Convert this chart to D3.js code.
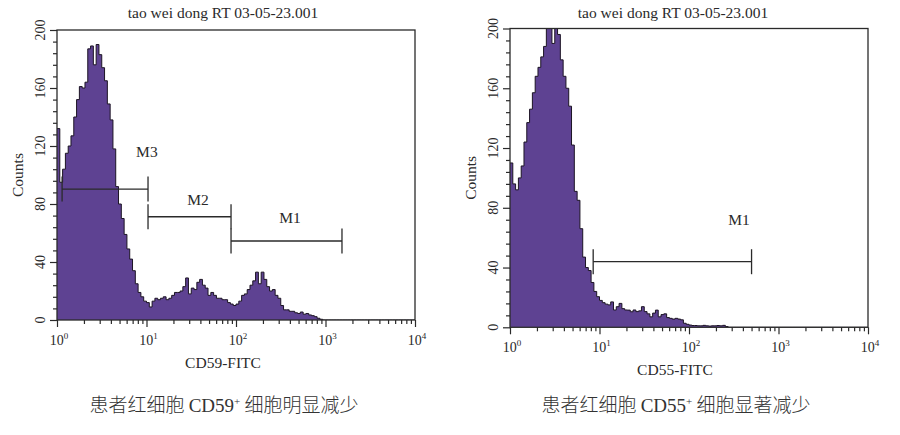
<!DOCTYPE html>
<html><head><meta charset="utf-8">
<script src="https://cdn.jsdelivr.net/npm/d3@7"></script>
<style>body{margin:0;background:#fff}</style>
</head><body><svg id="c" width="900" height="435"></svg>
<script>
// ---------------- data ----------------
const titleText = "tao wei dong RT 03-05-23.001";
const channelsPerDecade = 32;
const decadeTicks = [1, 10, 100, 1000, 10000];
const decadeExponents = ["0", "1", "2", "3", "4"];
const countTicks = [0, 40, 80, 120, 160, 200];
const countMinorStep = 8;
const xLabels = ["CD59-FITC", "CD55-FITC"];
const captionsPre = ["患者红细胞 ", "患者红细胞 "];
const captionsMarker = ["CD59", "CD55"];
const captionsPost = [" 细胞明显减少", " 细胞显著减少"];

// CD59-FITC histogram, 128 channels over 10^0..10^4
const cd59Counts = [
  132,95,104,115,120,127,140,152,161,160,
  164,187,189,176,190,183,174,165,149,138,
  118,92,80,70,59,49,42,34,25,19,
  16,13,12,9,13,15,14,15,16,14,
  15,17,19,19,20,23,29,18,22,21,
  26,28,24,22,17,19,17,15,15,14,
  14,12,11,10,11,13,17,18,21,24,
  27,33,25,33,28,23,20,21,17,15,
  10,7,7,6,6,5,4.5,5.5,4,4.5,
  3.5,3,2.3,1.2,0.5,0,0,0,0,0,
  0,0,0,0,0,0,0,0,0,0,
  0,0,0,0,0,0,0,0,0,0,
  0,0,0,0,0,0,0,0
];
// CD55-FITC histogram, 128 channels over 10^0..10^4
const cd55Counts = [
  110,96,92,100,108,124,137,146,157,168,
  174,181,188,200,204,190,204,196,179,168,
  160,148,122,91,85,66,47,40,38,30,
  24,20.5,18,16.5,15.5,15,17,11.6,13.8,16,
  12.5,11.6,11.5,10.4,11.6,10.5,11,13.8,10.5,9,
  7,9.5,11.5,7,8.5,9,6.5,6,5.5,6,
  5.5,5,2.7,2,1.5,1.2,1.2,1,1,1.3,
  1,0.8,1,1,1.2,1,1.3,0.5,0,0,
  0,0,0,0,0,0,0,0,0,0,
  0,0,0,0,0,0,0,0,0,0,
  0,0,0,0,0,0,0,0,0,0,
  0,0,0,0,0,0,0,0,0,0,
  0,0,0,0,0,0,0,0
];

// markers: name, range (lo..hi), level (count), label anchor (value,count)
const cd59MarkerNames = ["M3", "M2", "M1"];
const cd59MarkerLo = [1.14, 10.4, 88];
const cd59MarkerHi = [10.4, 88, 1528];
const cd59MarkerLevel = [90.3, 71.2, 54.5];
const cd59LabelX = [10.1, 37.6, 401];
const cd59LabelY = [116.5, 82.8, 70.3];

const cd55MarkerNames = ["M1"];
const cd55MarkerLo = [8.5];
const cd55MarkerHi = [500];
const cd55MarkerLevel = [43.9];
const cd55LabelX = [362];
const cd55LabelY = [72.4];

// ---------------- drawing ----------------
const svg = d3.select("#c");
svg.append("rect").attr("width", 900).attr("height", 435).attr("fill", "#fff");

const SERIF = "'Liberation Serif','Times New Roman',serif";
const INK = "#2a2a2a";
const FILL = "#5e4292";

function drawPanel(p) {
  const g = svg.append("g");
  const x = d3.scaleLog().domain([1, 10000]).range([p.left, p.right]);
  const y = d3.scaleLinear().domain([0, 200]).range([p.bottom, p.top]);

  const clipId = "clip" + p.id;
  svg.append("clipPath").attr("id", clipId).append("rect")
    .attr("x", p.left).attr("y", p.top)
    .attr("width", p.right - p.left).attr("height", p.bottom - p.top);

  const pts = p.counts.map((c, i) => [Math.pow(10, i / channelsPerDecade), c]);
  pts.push([Math.pow(10, p.counts.length / channelsPerDecade), p.counts[p.counts.length - 1]]);

  const area = d3.area().x(d => x(d[0])).y0(y(0)).y1(d => y(d[1])).curve(d3.curveStepAfter);
  const line = d3.line().x(d => x(d[0])).y(d => y(d[1])).curve(d3.curveStepAfter);

  const hg = g.append("g").attr("clip-path", `url(#${clipId})`);
  hg.append("path").datum(pts).attr("d", area).attr("fill", FILL);
  hg.append("path").datum(pts).attr("d", line).attr("fill", "none")
    .attr("stroke", "#1c1424").attr("stroke-width", 1);

  // frame
  g.append("rect").attr("x", p.left).attr("y", p.top)
    .attr("width", p.right - p.left).attr("height", p.bottom - p.top)
    .attr("fill", "none").attr("stroke", INK).attr("stroke-width", 1.3);

  // x axis ticks
  const minorX = x.ticks().filter(v => !decadeTicks.includes(v));
  const xMinor = g.append("g").attr("transform", `translate(0,${p.bottom})`)
    .call(d3.axisBottom(x).tickValues(minorX).tickSize(4).tickFormat(""));
  const xMajor = g.append("g").attr("transform", `translate(0,${p.bottom})`)
    .call(d3.axisBottom(x).tickValues(decadeTicks).tickSize(7).tickFormat(""));
  // y axis ticks
  const minorY = d3.range(0, 201, countMinorStep).filter(v => !countTicks.includes(v));
  const yMinor = g.append("g").attr("transform", `translate(${p.left},0)`)
    .call(d3.axisLeft(y).tickValues(minorY).tickSize(4).tickFormat(""));
  const yMajor = g.append("g").attr("transform", `translate(${p.left},0)`)
    .call(d3.axisLeft(y).tickValues(countTicks).tickSize(7).tickFormat(""));
  [xMinor, xMajor, yMinor, yMajor].forEach(a => {
    a.select(".domain").remove();
    a.selectAll("line").attr("stroke", INK).attr("stroke-width", 1.2);
  });

  // x tick labels
  decadeTicks.forEach((v, i) => {
    const t = g.append("text").attr("x", x(v) + 2).attr("y", p.bottom + 25)
      .attr("text-anchor", "middle").attr("font-family", SERIF)
      .attr("font-size", 14).attr("fill", INK);
    t.append("tspan").text("10");
    t.append("tspan").attr("dy", -6).attr("font-size", 9).text(decadeExponents[i]);
  });
  // y tick labels (rotated)
  countTicks.forEach(v => {
    g.append("text").attr("transform", `translate(${p.left - 12},${y(v)}) rotate(-90)`)
      .attr("text-anchor", "middle").attr("font-family", SERIF)
      .attr("font-size", 14).attr("fill", INK).text(v);
  });
  // Counts
  g.append("text").attr("transform", `translate(${p.left - 34},${(p.top + p.bottom) / 2}) rotate(-90)`)
    .attr("text-anchor", "middle").attr("font-family", SERIF)
    .attr("font-size", 15.5).attr("fill", INK).text("Counts");
  // title
  g.append("text").attr("x", p.titleX).attr("y", p.titleY).attr("text-anchor", "middle")
    .attr("font-family", SERIF).attr("font-size", 15.5).attr("fill", INK).text(titleText);
  // x label
  g.append("text").attr("x", p.xLabelX).attr("y", p.bottom + 48).attr("text-anchor", "middle")
    .attr("font-family", SERIF).attr("font-size", 15.5).attr("fill", INK).text(xLabels[p.id]);

  // markers
  p.names.forEach((name, i) => {
    const yl = y(p.level[i]), x1 = x(p.lo[i]), x2 = x(p.hi[i]);
    const mg = g.append("g").attr("stroke", INK).attr("stroke-width", 1.3);
    mg.append("line").attr("x1", x1).attr("x2", x2).attr("y1", yl).attr("y2", yl);
    mg.append("line").attr("x1", x1).attr("x2", x1).attr("y1", yl - 12.5).attr("y2", yl + 12.5);
    mg.append("line").attr("x1", x2).attr("x2", x2).attr("y1", yl - 12.5).attr("y2", yl + 12.5);
    g.append("text").attr("x", x(p.labelX[i])).attr("y", y(p.labelY[i])).attr("dy", "0.35em")
      .attr("text-anchor", "middle").attr("font-family", SERIF).attr("font-size", 15.5)
      .attr("fill", INK).text(name);
  });

  // caption
  const cap = g.append("text").attr("x", p.captionX).attr("y", 412).attr("text-anchor", "middle")
    .attr("font-size", 19).attr("fill", "#333");
  cap.append("tspan").attr("font-family", "'Noto Sans CJK SC'").attr("font-weight", 300).text(captionsPre[p.id]);
  cap.append("tspan").attr("font-family", SERIF).text(captionsMarker[p.id]);
  cap.append("tspan").attr("font-family", SERIF).attr("font-size", 11).attr("dy", -7).text("+");
  cap.append("tspan").attr("font-family", "'Noto Sans CJK SC'").attr("font-weight", 300).attr("dy", 7).text(captionsPost[p.id]);
}

drawPanel({
  id: 0, left: 57, right: 415, top: 30, bottom: 320,
  counts: cd59Counts, names: cd59MarkerNames, lo: cd59MarkerLo, hi: cd59MarkerHi,
  level: cd59MarkerLevel, labelX: cd59LabelX, labelY: cd59LabelY,
  titleX: 223, titleY: 18, xLabelX: 223, captionX: 224
});
drawPanel({
  id: 1, left: 510, right: 868, top: 28.5, bottom: 327.3,
  counts: cd55Counts, names: cd55MarkerNames, lo: cd55MarkerLo, hi: cd55MarkerHi,
  level: cd55MarkerLevel, labelX: cd55LabelX, labelY: cd55LabelY,
  titleX: 673, titleY: 18, xLabelX: 675, captionX: 676
});
</script>
</body></html>
